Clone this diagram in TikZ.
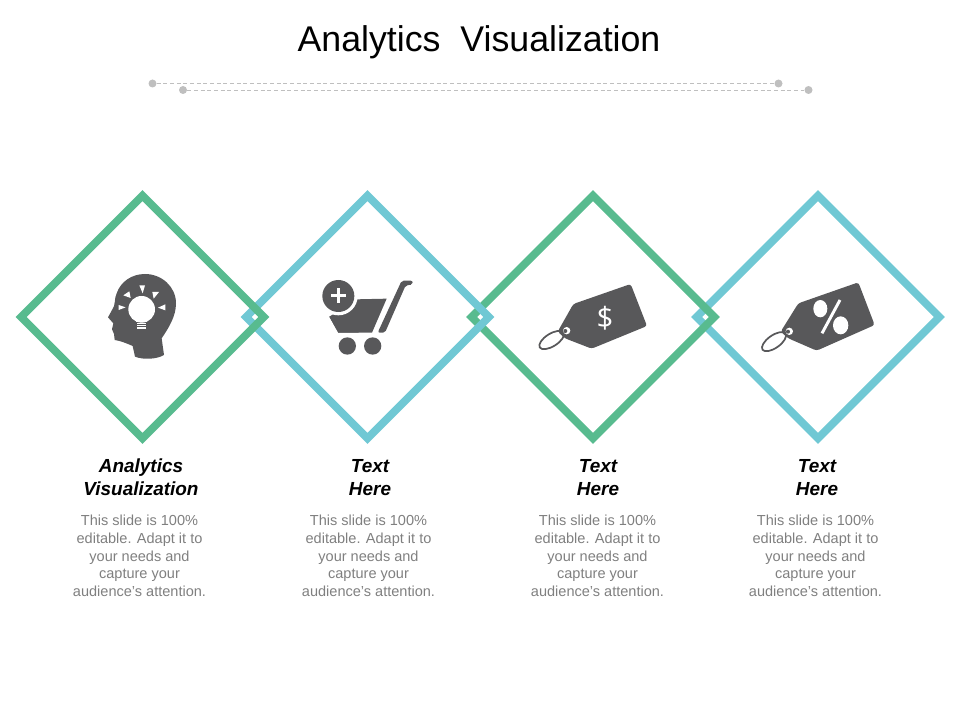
\documentclass[tikz,border=0pt]{standalone}
\usepackage{fontspec}
\setmainfont{Liberation Sans}
\newfontfamily\tagfont{Open Sans}
\usetikzlibrary{shapes.geometric}
\definecolor{dgreen}{HTML}{58BB8F}
\definecolor{dblue}{HTML}{70C8D4}
\definecolor{dicon}{HTML}{58585A}
\definecolor{dtext}{HTML}{7F7F7F}
\definecolor{ddot}{HTML}{BFBFBF}
\tikzset{
  frame/.style={diamond, aspect=1, draw=#1, line width=5.8pt, minimum width=184.5pt, minimum height=184.5pt, inner sep=0},
  pin/.style={circle, fill=ddot, inner sep=0, minimum size=6pt},
  rule/.style={draw=ddot, line width=0.5pt, densely dashed},
  head/.style={font=\fontsize{14.2}{17.2}\selectfont\bfseries\itshape, align=center, text=black},
  body/.style={font=\fontsize{10.9}{13.3}\selectfont, align=center, text=dtext},
}
\begin{document}
\begin{tikzpicture}[x=0.75pt,y=-0.75pt]
  \useasboundingbox (0,0) rectangle (960,720);
  \node[font=\fontsize{26.8}{32}\selectfont, text=black] (title) at (479,42.5) {Analytics\ \ Visualization};
  % Rules below the title
  \node[pin] (p1) at (152.5,83.5) {};
  \node[pin] (p2) at (778.5,83.5) {};
  \node[pin] (p3) at (183,90) {};
  \node[pin] (p4) at (808.5,90) {};
  \draw[rule] (p1) -- (p2);
  \draw[rule] (p3) -- (p4);
  % Frames, right one first
  \node[frame=dblue] (d4) at (818,317) {};
  \node[frame=dgreen] (d3) at (593,317) {};
  \node[frame=dblue] (d2) at (367.5,317) {};
  \node[frame=dgreen] (d1) at (142.5,317) {};
  % Head
  \begin{scope}[shift={(90,260)}, scale=1/3]
    \fill[dicon] (165,42) .. controls (215,42) and (258,80) .. (258,130)
      .. controls (258,170) and (235,205) .. (215,235)
      -- (222,285) .. controls (200,298) and (160,300) .. (135,290)
      -- (128,258) .. controls (110,250) and (90,242) .. (74,240)
      -- (72,222) -- (66,208) -- (70,190) -- (54,172) -- (66,150)
      .. controls (78,135) and (72,115) .. (80,100)
      .. controls (92,65) and (125,42) .. (165,42) -- cycle;
    \fill[white] (155,148) circle (40);
    \fill[white] (139,180) rectangle (171,186);
    \foreach \yy in {190,197,204}
      \draw[white, line width=1pt] (141,\yy) -- (169,\yy);
    \fill[white] (100,106) -- (118,94) -- (122,114) -- cycle;
    \fill[white] (148,76) -- (165,76) -- (158,100) -- cycle;
    \fill[white] (207,96) -- (191,116) -- (187,96) -- cycle;
    \fill[white] (226,133) -- (204,143) -- (226,151) -- cycle;
    \fill[white] (86,135) -- (107,142) -- (86,150) -- cycle;
  \end{scope}
  % Cart
  \begin{scope}[shift={(90,260)}, scale=1/3]
    \fill[dicon] (718,170) -- (800,118) -- (890,116) -- (846,218) -- (745,218) -- cycle;
    \fill[white] (745,108) circle (58);
    \fill[dicon] (718,170) -- (785,170) -- (806,150) -- (806,218) -- (745,218) -- cycle;
    \fill[dicon] (745,108) circle (48);
    \fill[white] (740,84) rectangle (750,130);
    \fill[white] (722,102) rectangle (768,112);
    \fill[dicon, rounded corners=1.5pt] (863,218) -- (935,62) -- (968,62) -- (968,74) -- (947,76) -- (885,218) -- cycle;
    \fill[dicon] (772,258) circle (26);
    \fill[dicon] (848,258) circle (26);
  \end{scope}
  % Dollar tag
  \begin{scope}[shift={(520,270)}, scale=1/3]
    \draw[dicon, line width=1.3pt, rotate around={32:(95,210)}] (95,210) ellipse (42 and 19);
    \fill[dicon, rounded corners=2pt] (160,102) -- (332,42) -- (381,168) -- (215,236) -- (135,205) -- (113,185) -- cycle;
    \fill[white] (140,182) circle (11);
    \fill[dicon] (136,183) circle (6);
    \node[text=white, font=\fontsize{22}{22}\selectfont\tagfont] (dollar) at (255,145) {\$};
  \end{scope}
  % Percent tag
  \begin{scope}[shift={(520,270)}, scale=1/3]
    \draw[dicon, line width=1.3pt, rotate around={35:(762,215)}] (762,215) ellipse (42 and 19);
    \fill[dicon, rounded corners=2pt] (835,100) -- (1015,37) -- (1064,165) -- (890,242) -- (805,205) -- (782,185) -- cycle;
    \fill[white] (808,184) circle (11);
    \fill[dicon] (804,185) circle (6);
    \fill[white] (901,116) ellipse (21 and 26);
    \fill[white] (962,166) ellipse (23 and 27);
    \draw[white, line width=2.2pt] (960,90) -- (906,190);
  \end{scope}
  % Labels
  \node[head] (h1) at (141,477.5) {Analytics\\Visualization};
  \node[head] (h2) at (370,477.5) {Text\\Here};
  \node[head] (h3) at (598,477.5) {Text\\Here};
  \node[head] (h4) at (817,477.5) {Text\\Here};
  \node[body] (b1) at (139.5,556) {This slide is 100\%\\editable. Adapt it to\\your needs and\\capture your\\audience's attention.};
  \node[body] (b2) at (368.5,556) {This slide is 100\%\\editable. Adapt it to\\your needs and\\capture your\\audience's attention.};
  \node[body] (b3) at (597.5,556) {This slide is 100\%\\editable. Adapt it to\\your needs and\\capture your\\audience's attention.};
  \node[body] (b4) at (815.5,556) {This slide is 100\%\\editable. Adapt it to\\your needs and\\capture your\\audience's attention.};
\end{tikzpicture}
\end{document}
